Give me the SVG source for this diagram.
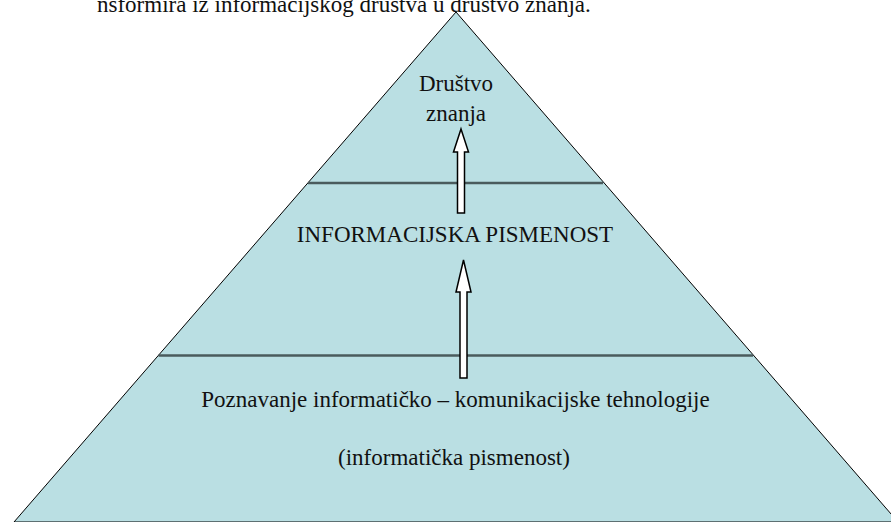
<svg xmlns="http://www.w3.org/2000/svg" width="891" height="522" viewBox="0 0 891 522">
<style>
text{font-family:"Liberation Serif","Times New Roman",serif;font-size:23px;fill:#111;text-anchor:middle}
.tier{stroke:#4a5b5d;stroke-width:2.5}
.arrow{fill:#fff;stroke:#000;stroke-width:1.5;stroke-linejoin:miter}
</style>
<rect width="891" height="522" fill="#fff"/>
<text x="97" y="12" style="text-anchor:start">nsformira iz informacijskog društva u društvo znanja.</text>
<g id="pyramid">
<polygon points="456,12 14,522 898,522" fill="#badfe3" stroke="#000" stroke-width="1"/>
<line class="tier" x1="308" y1="183" x2="603" y2="183"/>
<line class="tier" x1="158.5" y1="355.5" x2="753" y2="355.5"/>
</g>
<g id="node-drustvo-znanja">
<text x="456" y="91">Društvo</text>
<text x="456" y="121">znanja</text>
</g>
<g id="node-informacijska-pismenost">
<text x="455" y="242">INFORMACIJSKA PISMENOST</text>
</g>
<g id="node-ikt">
<text x="455.5" y="407">Poznavanje informatičko – komunikacijske tehnologije</text>
<text x="454" y="465">(informatička pismenost)</text>
</g>
<g id="connectors">
<polygon class="arrow" points="461,129 468.5,152 464.5,152 464.5,213 457.5,213 457.5,152 453.5,152"/>
<polygon class="arrow" points="463.5,260 471,292 467,292 467,378 460,378 460,292 456,292"/>
</g>
</svg>
